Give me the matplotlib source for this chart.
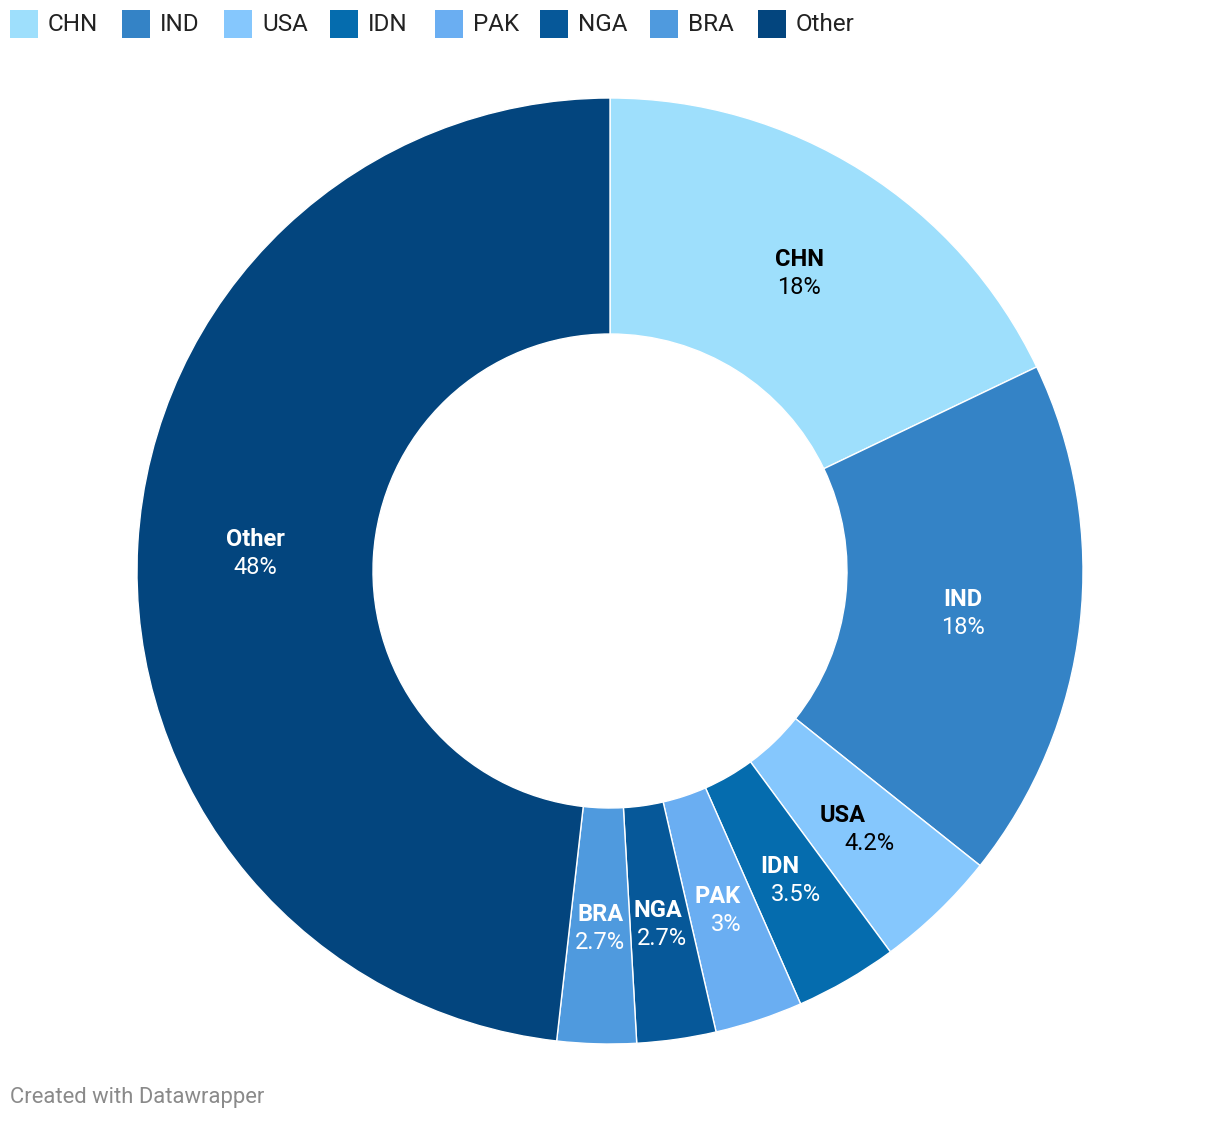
import matplotlib
matplotlib.use("Agg")
import matplotlib.pyplot as plt
import numpy as np

plt.rcParams['font.family'] = ['Roboto', 'DejaVu Sans']

# data (share of total, %)
countries = ["CHN", "IND", "USA", "IDN", "PAK", "NGA", "BRA", "Other"]
shares = [17.9, 17.8, 4.2, 3.5, 3.0, 2.7, 2.7, 48.2]
colors = ["#9edffc", "#3483c6", "#85c7fd", "#056cae",
          "#6aaef2", "#065899", "#4f9ade", "#03457e"]
label_colors = ["#000000", "#ffffff", "#000000", "#ffffff",
                "#ffffff", "#ffffff", "#ffffff", "#ffffff"]


def fmt(v):
    if v >= 10:
        return "%d%%" % round(v)
    s = ("%.1f" % v).rstrip("0").rstrip(".")
    return s + "%"


W, H = 1220, 1122
fig = plt.figure(figsize=(W / 100, H / 100), dpi=100)
ax = fig.add_axes([0, 0, 1, 1])

cx, cy = 610, H - 571
r_out, r_in = 473, 237

wedges, _ = ax.pie(shares, colors=colors, startangle=90, counterclock=False,
                   radius=r_out, center=(cx, cy),
                   wedgeprops=dict(width=r_out - r_in, edgecolor="white", linewidth=1))

r_lab = (r_out + r_in) / 2
for w, name, v, lc in zip(wedges, countries, shares, label_colors):
    mid = np.deg2rad((w.theta1 + w.theta2) / 2)
    ux, uy = np.cos(mid), np.sin(mid)
    x = cx + r_lab * ux
    y = cy + r_lab * uy - 2.5
    # thin slices: stack the two lines along the radial direction
    sx = 14 * ux / abs(uy) if v < 5 else 0
    if uy > 0:
        sx = -sx
    ax.text(x - sx, y + 14, name, ha="center", va="center", fontsize=17,
            fontweight="bold", color=lc)
    ax.text(x + sx, y - 14, fmt(v), ha="center", va="center", fontsize=17, color=lc)

ax.set_xlim(0, W)
ax.set_ylim(0, H)
ax.set_aspect("equal")
ax.axis("off")

# legend row at the top
leg_x = [10, 122, 224, 330, 435, 540, 650, 758]
for lx, name, c in zip(leg_x, countries, colors):
    ax.add_patch(plt.Rectangle((lx, H - 38), 28, 28, color=c, lw=0))
    ax.text(lx + 38, H - 24, name, ha="left", va="center", fontsize=17.5,
            color="#222222")

ax.text(10, H - 1098, "Created with Datawrapper", ha="left", va="center",
        fontsize=15.8, color="#8a8a8a")

fig.savefig("out.png", dpi=100, facecolor="white")
